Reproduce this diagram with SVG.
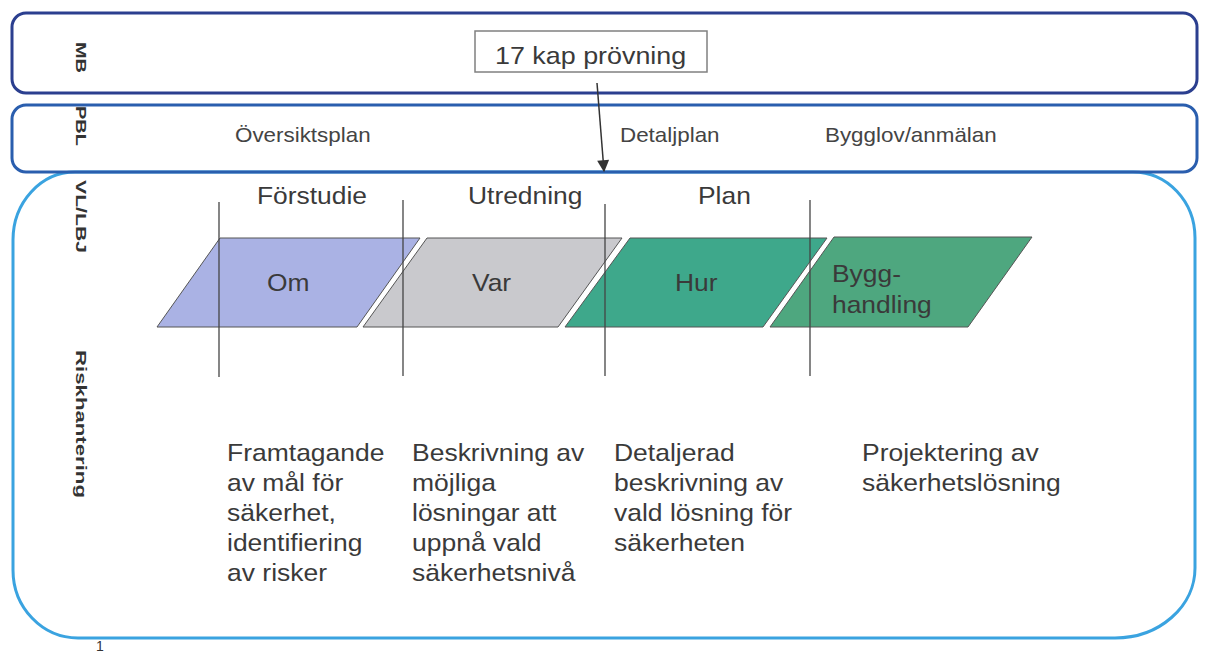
<svg xmlns="http://www.w3.org/2000/svg" width="1205" height="653" viewBox="0 0 1205 653">
  <style>
    text { font-family: "Liberation Sans", Arial, sans-serif; }
    .lane-label { font-size: 15px; font-weight: bold; fill: #333; }
    .big { font-size: 24px; fill: #3a3a3a; }
    .small { font-size: 20px; fill: #444; }
    .phase { stroke: #555; stroke-width: 1; }
    .divider { stroke: #444; stroke-width: 1.3; fill: none; }
  </style>
  <defs>
    <marker id="arrowhead" viewBox="0 0 10 10" refX="9" refY="5" markerWidth="13" markerHeight="12" orient="auto-start-reverse" markerUnits="userSpaceOnUse">
      <path d="M0,0 L10,5 L0,10 z" fill="#333"/>
    </marker>
  </defs>

  <rect width="1205" height="653" fill="#ffffff"/>

  <!-- VL/LBJ and risk management lane -->
  <g id="lane-vl">
    <path d="M75,172 H1133 A62,66 0 0 1 1195,238 V568 A80,70 0 0 1 1115,638 H78 A65,68 0 0 1 13,570 V240 A62,68 0 0 1 75,172 Z" fill="none" stroke="#3aa3e0" stroke-width="3"/>
    <text class="lane-label" transform="translate(76,180) rotate(90)" textLength="73" lengthAdjust="spacingAndGlyphs">VL/LBJ</text>
    <text class="lane-label" transform="translate(76,350) rotate(90)" textLength="148" lengthAdjust="spacingAndGlyphs">Riskhantering</text>
  </g>

  <!-- PBL lane -->
  <g id="lane-pbl">
    <rect x="12" y="105" width="1185" height="67" rx="14" fill="none" stroke="#2a5eae" stroke-width="3"/>
    <text class="lane-label" transform="translate(76,106) rotate(90)" textLength="40" lengthAdjust="spacingAndGlyphs">PBL</text>
    <text class="small" transform="translate(235,142) scale(1.12,1)">Översiktsplan</text>
    <text class="small" transform="translate(620,142) scale(1.12,1)">Detaljplan</text>
    <text class="small" transform="translate(825,142) scale(1.12,1)">Bygglov/anmälan</text>
  </g>

  <!-- MB lane -->
  <g id="lane-mb">
    <rect x="12" y="13" width="1185" height="80" rx="14" fill="none" stroke="#2b3f8f" stroke-width="3"/>
    <text class="lane-label" transform="translate(76,42) rotate(90)" textLength="31" lengthAdjust="spacingAndGlyphs">MB</text>
  </g>

  <!-- 17 kap review -->
  <g id="node-17kap">
    <rect x="475" y="31" width="232" height="41" fill="#ffffff" stroke="#808080" stroke-width="1.5"/>
    <text class="big" transform="translate(495,64) scale(1.12,1)" fill="#333">17 kap prövning</text>
  </g>

  <!-- phase headings -->
  <g id="headings">
    <text class="big" transform="translate(257,204) scale(1.1,1)">Förstudie</text>
    <text class="big" transform="translate(468,204) scale(1.1,1)">Utredning</text>
    <text class="big" transform="translate(698,204) scale(1.1,1)">Plan</text>
  </g>

  <!-- process phases -->
  <g id="phase-om">
    <polygon class="phase" points="220,238 420,238 357,327 157,327" fill="#aab2e4"/>
    <text class="big" transform="translate(267,291) scale(1.1,1)" fill="#2c3560">Om</text>
  </g>
  <g id="phase-var">
    <polygon class="phase" points="427,238 622,238 558,327 363,327" fill="#c9c9cd"/>
    <text class="big" transform="translate(472,291) scale(1.1,1)" fill="#3a3a3a">Var</text>
  </g>
  <g id="phase-hur">
    <polygon class="phase" points="630,238 827,238 763,327 565,327" fill="#3ea88b"/>
    <text class="big" transform="translate(675,291) scale(1.1,1)" fill="#2b6656">Hur</text>
  </g>
  <g id="phase-bygg">
    <polygon class="phase" points="834,237 1032,237 968,327 770,327" fill="#4ea77f"/>
    <text class="big" transform="translate(832,282) scale(1.1,1)" fill="#2d6e5c">Bygg-</text>
    <text class="big" transform="translate(832,313) scale(1.1,1)" fill="#111">handling</text>
  </g>

  <!-- phase boundaries -->
  <g id="dividers">
    <line class="divider" x1="219" y1="202" x2="219" y2="377"/>
    <line class="divider" x1="403" y1="200" x2="403" y2="376"/>
    <line class="divider" x1="605" y1="204" x2="605" y2="376"/>
    <line class="divider" x1="810" y1="200" x2="810" y2="376"/>
  </g>

  <!-- risk management descriptions -->
  <g id="desc-forstudie">
    <text class="big" transform="translate(227,461) scale(1.104,1)">
      <tspan x="0" y="0">Framtagande</tspan>
      <tspan x="0" y="30">av mål för</tspan>
      <tspan x="0" y="60">säkerhet,</tspan>
      <tspan x="0" y="90">identifiering</tspan>
      <tspan x="0" y="120">av risker</tspan>
    </text>
  </g>
  <g id="desc-utredning">
    <text class="big" transform="translate(412,461) scale(1.104,1)">
      <tspan x="0" y="0">Beskrivning av</tspan>
      <tspan x="0" y="30">möjliga</tspan>
      <tspan x="0" y="60">lösningar att</tspan>
      <tspan x="0" y="90">uppnå vald</tspan>
      <tspan x="0" y="120">säkerhetsnivå</tspan>
    </text>
  </g>
  <g id="desc-plan">
    <text class="big" transform="translate(614,461) scale(1.104,1)">
      <tspan x="0" y="0">Detaljerad</tspan>
      <tspan x="0" y="30">beskrivning av</tspan>
      <tspan x="0" y="60">vald lösning för</tspan>
      <tspan x="0" y="90">säkerheten</tspan>
    </text>
  </g>
  <g id="desc-bygg">
    <text class="big" transform="translate(862,461) scale(1.104,1)">
      <tspan x="0" y="0">Projektering av</tspan>
      <tspan x="0" y="30">säkerhetslösning</tspan>
    </text>
  </g>

  <!-- page number -->
  <text x="96" y="651" font-size="14" fill="#333">1</text>

  <!-- connectors -->
  <g id="connectors">
    <line x1="597" y1="83" x2="604" y2="171" stroke="#333" stroke-width="1.5" marker-end="url(#arrowhead)"/>
  </g>
</svg>
